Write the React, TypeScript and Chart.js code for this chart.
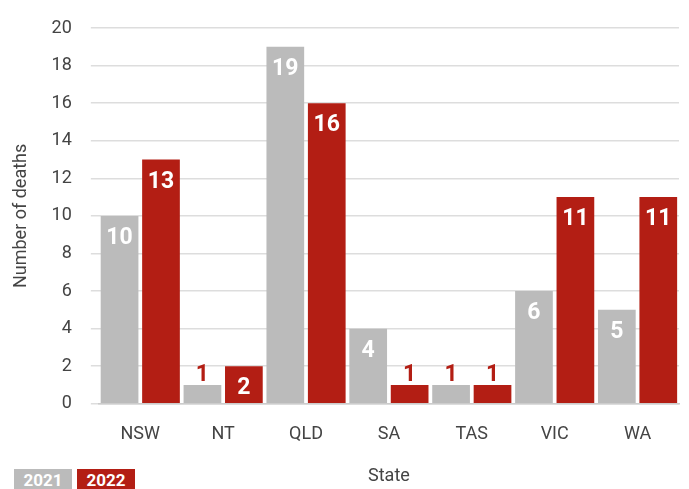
import React, { useEffect, useRef } from "react";
import { Chart, registerables } from "chart.js";

Chart.register(...registerables);

const states = ["NSW", "NT", "QLD", "SA", "TAS", "VIC", "WA"];
const deaths2021 = [10, 1, 19, 4, 1, 6, 5];
const deaths2022 = [13, 2, 16, 1, 1, 11, 11];
const seriesLabels = ["2021", "2022"];
const yTicksMax = 20;
const yTickStep = 2;

const GRAY = "#bbbbbb";
const RED = "#b31e14";
const FONT = "Roboto, 'DejaVu Sans', sans-serif";

const valueLabels = {
  id: "valueLabels",
  afterDatasetsDraw(chart: any) {
    const ctx = chart.ctx;
    ctx.save();
    ctx.font = `bold 23px ${FONT}`;
    ctx.textAlign = "center";
    ctx.textBaseline = "alphabetic";
    chart.data.datasets.forEach((ds: any, di: number) => {
      const meta = chart.getDatasetMeta(di);
      meta.data.forEach((bar: any, i: number) => {
        const v = ds.data[i];
        const h = bar.base - bar.y;
        if (h < 30) {
          ctx.fillStyle = RED;
          ctx.fillText(String(v), bar.x, bar.y - 4);
        } else {
          ctx.fillStyle = "#ffffff";
          ctx.fillText(String(v), bar.x, bar.y + 28);
        }
      });
    });
    ctx.restore();
  },
};

export default function App() {
  const ref = useRef<HTMLCanvasElement>(null);
  useEffect(() => {
    if (!ref.current) return;
    const chart = new Chart(ref.current, {
      type: "bar",
      data: {
        labels: states,
        datasets: [
          { label: seriesLabels[0], data: deaths2021, backgroundColor: GRAY, categoryPercentage: 1.0, barPercentage: 0.91 },
          { label: seriesLabels[1], data: deaths2022, backgroundColor: RED, categoryPercentage: 1.0, barPercentage: 0.91 },
        ],
      },
      options: {
        animation: false,
        responsive: false,
        maintainAspectRatio: false,
        layout: { padding: { top: 3, right: 10, bottom: 2, left: 11 } },
        plugins: {
          legend: { display: false },
          tooltip: { enabled: false },
        },
        scales: {
          x: {
            grid: { display: false, drawTicks: false },
            border: { display: true, color: "#cccccc", width: 1.5 },
            ticks: { color: "#444444", font: { family: FONT, size: 18 }, padding: 20 },
            title: { display: true, text: "State", color: "#444444", font: { family: FONT, size: 18 }, padding: { top: 0, bottom: 0 } },
          },
          y: {
            min: 0,
            max: yTicksMax,
            grid: { color: "#dddddd", lineWidth: 1.5, tickLength: 8, drawTicks: true, tickColor: "#dddddd" },
            border: { display: false },
            ticks: { stepSize: yTickStep, color: "#444444", font: { family: FONT, size: 18, lineHeight: 1 }, padding: 19 },
            title: { display: true, text: "Number of deaths", color: "#444444", font: { family: FONT, size: 18 }, padding: { top: 0, bottom: 0 } },
          },
        },
      },
      plugins: [valueLabels],
    });
    return () => chart.destroy();
  }, []);

  const box = (bg: string): React.CSSProperties => ({
    position: "absolute",
    top: 469,
    width: 58,
    height: 22,
    background: bg,
    color: "#ffffff",
    fontFamily: FONT,
    fontWeight: "bold",
    fontSize: 17,
    lineHeight: "22px",
    textAlign: "center",
  });

  return (
    <div style={{ position: "fixed", left: 0, top: 0, width: 689, height: 489, background: "#fff", overflow: "hidden" }}>
      <canvas ref={ref} width={689} height={489} style={{ display: "block" }} />
      <div style={{ ...box(GRAY), left: 14 }}>{seriesLabels[0]}</div>
      <div style={{ ...box(RED), left: 77 }}>{seriesLabels[1]}</div>
    </div>
  );
}
